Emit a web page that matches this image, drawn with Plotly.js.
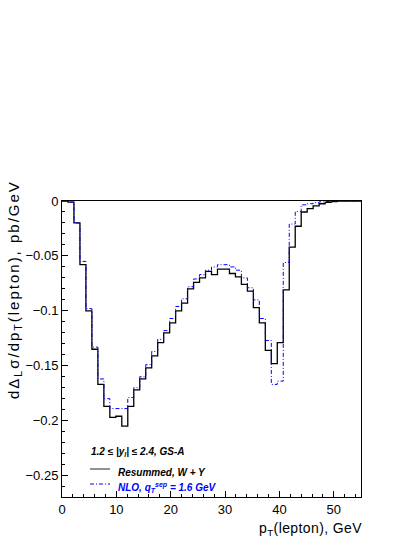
<!DOCTYPE html>
<html>
<head>
<meta charset="utf-8">
<script src="https://cdn.plot.ly/plotly-3.0.1.min.js"></script>
<style>
html,body{margin:0;padding:0;background:#fff;}
#chart{width:415px;height:537px;}
g.annotation[data-index="1"] text{letter-spacing:2px;}
g.annotation[data-index="0"] text{letter-spacing:0.4px;}
</style>
</head>
<body>
<div id="chart"></div>
<script>
// bin edges of p_T(lepton), GeV (50 bins, 0 - 55 GeV)
const binEdges = [0,1.1,2.2,3.3,4.4,5.5,6.6,7.7,8.8,9.9,11,12.1,13.2,14.3,15.4,16.5,17.6,18.7,19.8,20.9,22,
  23.1,24.2,25.3,26.4,27.5,28.6,29.7,30.8,31.9,33,34.1,35.2,36.3,37.4,38.5,39.6,40.7,41.8,42.9,44,
  45.1,46.2,47.3,48.4,49.5,50.6,51.7,52.8,53.9,55];

// Resummed, W + Y  (pb/GeV)
const resummed = [0,-0.001,-0.020,-0.058,-0.100,-0.135,-0.167,-0.187,-0.197,-0.196,
  -0.205,-0.187,-0.172,-0.162,-0.152,-0.141,-0.129,-0.120,-0.111,-0.100,
  -0.093,-0.080,-0.074,-0.070,-0.064,-0.067,-0.062,-0.062,-0.066,-0.069,
  -0.076,-0.082,-0.097,-0.111,-0.136,-0.148,-0.129,-0.081,-0.042,-0.023,
  -0.010,-0.007,-0.0045,-0.0025,-0.0012,-0.0006,0,0,0,0];

// NLO, q_T^sep = 1.6 GeV  (pb/GeV)
const nlo = [0,-0.001,-0.020,-0.055,-0.098,-0.133,-0.162,-0.180,-0.189,-0.189,
  -0.189,-0.179,-0.170,-0.160,-0.149,-0.137,-0.126,-0.118,-0.107,-0.096,
  -0.089,-0.078,-0.071,-0.067,-0.063,-0.060,-0.058,-0.058,-0.060,-0.063,
  -0.070,-0.079,-0.090,-0.107,-0.127,-0.167,-0.164,-0.056,-0.021,-0.0095,
  -0.0035,-0.0025,-0.0015,-0.0008,-0.0004,0,0,0,0,0];

const xTickVals = [0,10,20,30,40,50];
const yTickVals = [0,-0.05,-0.1,-0.15,-0.2,-0.25];

function stepY(v){ return v.concat([v[v.length-1]]); }

const traces = [
  {x: binEdges, y: stepY(resummed), type:'scatter', mode:'lines',
   line:{shape:'hv', color:'#000000', width:1.3}, showlegend:false, hoverinfo:'skip'},
  {x: binEdges, y: stepY(nlo), type:'scatter', mode:'lines',
   line:{shape:'hv', color:'#0000ff', width:1, dash:'4px,2px,1px,2px'}, showlegend:false, hoverinfo:'skip'}
];

const font = {family:'"Liberation Sans", Arial, sans-serif', color:'#000'};
const L = 62, R = 361, T = 201, B = 497;
function px(x){ return (x-L)/(R-L); }
function py(y){ return (B-y)/(B-T); }

const layout = {
  width:415, height:537,
  margin:{l:L, r:415-R, t:T, b:537-B, pad:0},
  paper_bgcolor:'#fff', plot_bgcolor:'#fff',
  font: Object.assign({size:13}, font),
  showlegend:false,
  xaxis:{range:[0,55], tickvals:xTickVals, ticktext:xTickVals.map(String),
    ticks:'inside', ticklen:6, tickcolor:'#000', tickwidth:1,
    minor:{ticks:'inside', ticklen:3, dtick:2, tick0:0, tickcolor:'#000', tickwidth:1},
    showline:true, linecolor:'#000', linewidth:1, mirror:true,
    showgrid:false, zeroline:false, tickfont:Object.assign({size:13}, font)},
  yaxis:{range:[-0.2695,0], tickvals:yTickVals, ticktext:['0','\u22120.05','\u22120.1','\u22120.15','\u22120.2','\u22120.25'],
    ticks:'inside', ticklen:6, tickcolor:'#000', tickwidth:1,
    minor:{ticks:'inside', ticklen:3, dtick:0.01, tick0:0, tickcolor:'#000', tickwidth:1},
    showline:true, linecolor:'#000', linewidth:1, mirror:true,
    showgrid:false, zeroline:false, tickfont:Object.assign({size:13}, font)},
  annotations:[
    {xref:'paper', yref:'paper', x:px(362), y:py(529), xanchor:'right', yanchor:'middle', showarrow:false,
     text:'p<sub>T</sub>(lepton), GeV', font:Object.assign({size:14}, font)},
    {xref:'paper', yref:'paper', x:px(14), y:py(290), xanchor:'center', yanchor:'middle', showarrow:false,
     textangle:-90, text:'d\u0394<sub>L</sub>\u03c3/dp<sub>T</sub>(lepton), pb/GeV', font:Object.assign({size:15}, font)},
    {xref:'paper', yref:'paper', x:px(89), y:py(452), xanchor:'left', yanchor:'middle', showarrow:false,
     text:'<b><i>1.2 \u2264 |y<sub>l</sub>| \u2264 2.4, GS-A</i></b>', font:Object.assign({size:10}, font)},
    {xref:'paper', yref:'paper', x:px(116), y:py(472), xanchor:'left', yanchor:'middle', showarrow:false,
     text:'<b><i>Resummed, W + Y</i></b>', font:Object.assign({size:10}, font)},
    {xref:'paper', yref:'paper', x:px(116), y:py(487), xanchor:'left', yanchor:'middle', showarrow:false,
     text:'<b><i>NLO, q<sub>T</sub><sup>sep</sup> = 1.6 GeV</i></b>',
     font:{family:font.family, size:10, color:'#0000ff'}}
  ],
  shapes:[
    {type:'line', xref:'paper', yref:'paper', x0:px(90), x1:px(110), y0:py(469), y1:py(469),
     line:{color:'#555', width:1.3}},
    {type:'line', xref:'paper', yref:'paper', x0:px(90), x1:px(110), y0:py(484), y1:py(484),
     line:{color:'#0000ff', width:1, dash:'4px,2px,1px,2px'}}
  ]
};

Plotly.newPlot('chart', traces, layout, {displayModeBar:false, staticPlot:true});
</script>
</body>
</html>
